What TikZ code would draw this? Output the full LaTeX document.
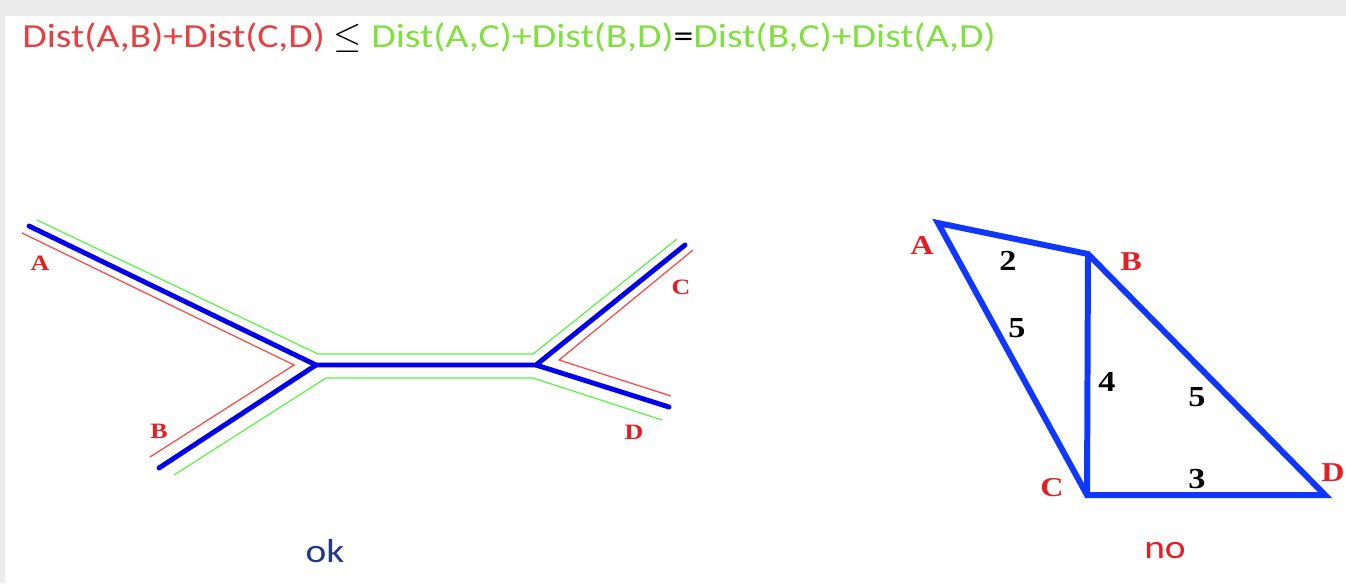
\documentclass[tikz,border=0pt]{standalone}
\usepackage{fontspec}
\setmainfont{Liberation Serif}
\newfontfamily\calfont[FakeStretch=1.18]{Carlito}
\newfontfamily\lblfont[FakeStretch=1.18]{Liberation Serif}
\usetikzlibrary{positioning}

\definecolor{treeblue}{RGB}{0,0,235}
\definecolor{triblue}{RGB}{15,55,255}
\definecolor{linegreen}{RGB}{90,245,70}
\definecolor{linered}{RGB}{255,70,70}
\definecolor{lblred}{RGB}{230,30,35}
\definecolor{eqred}{RGB}{232,64,64}
\definecolor{eqgreen}{RGB}{128,224,64}
\definecolor{okblue}{RGB}{32,56,140}

\begin{document}
\begin{tikzpicture}[
    x=0.02cm, y=-0.02cm,
    branch/.style={treeblue, line width=2.8pt, line cap=round, line join=round},
    greenpath/.style={linegreen, line width=0.7pt},
    redpath/.style={linered, line width=0.7pt},
    edge/.style={triblue, line width=3.4pt},
    leaf/.style={text=lblred, font=\lblfont\bfseries\fontsize{12.5}{13}\selectfont},
    vtx/.style={text=lblred, font=\lblfont\bfseries\fontsize{15.5}{16}\selectfont},
    wt/.style={font=\lblfont\bfseries\fontsize{16.5}{17}\selectfont},
    eq/.style={font=\calfont\fontsize{19.2}{22}\selectfont, inner sep=0pt},
    verdict/.style={font=\calfont\fontsize{19}{22}\selectfont},
]

% --- Frame ---
\useasboundingbox (0,0) rectangle (1346,583);
\fill[gray!15] (0,0) rectangle (1346,16);
\fill[gray!15] (0,16) rectangle (5,583);

% --- Inequality ---
\node[eq, anchor=base west] (ineq) at (22,47)
    {\textcolor{eqred}{Dist(A,B)+Dist(C,D)} $\leq$ \textcolor{eqgreen}{Dist(A,C)+Dist(B,D)}=\textcolor{eqgreen}{Dist(B,C)+Dist(A,D)}};

% --- Tree: branch points ---
\coordinate (ta) at (29,226);
\coordinate (tb) at (159,468);
\coordinate (tc) at (685,245);
\coordinate (td) at (669,407);
\coordinate (tu) at (316,365);
\coordinate (tv) at (536,365);

% --- Tree: path outlines ---
\coordinate (g1) at (37,220);
\coordinate (g2) at (318,354);
\coordinate (g3) at (533,354);
\coordinate (g4) at (677,239);
\coordinate (g5) at (174,475);
\coordinate (g6) at (326,378);
\coordinate (g7) at (533,378);
\coordinate (g8) at (662,420);
\coordinate (r1) at (22,233);
\coordinate (r2) at (294,365);
\coordinate (r3) at (150,457);
\coordinate (r4) at (693,250);
\coordinate (r5) at (559,360);
\coordinate (r6) at (671,396);

\draw[greenpath] (g1) -- (g2) -- (g3) -- (g4);
\draw[greenpath] (g5) -- (g6) -- (g7) -- (g8);
\draw[redpath] (r1) -- (r2) -- (r3);
\draw[redpath] (r4) -- (r5) -- (r6);

\draw[branch] (ta) -- (tu) -- (tv) -- (tc);
\draw[branch] (tb) -- (tu);
\draw[branch] (tv) -- (td);

\node[leaf] (la) at (40,263) {A};
\node[leaf] (lb) at (159,431) {B};
\node[leaf] (lc) at (681,287) {C};
\node[leaf] (ld) at (634,432) {D};

% --- Triangles ---
\coordinate (A) at (938,223);
\coordinate (B) at (1088,254);
\coordinate (C) at (1087,495);
\coordinate (D) at (1325,495);

\draw[edge] (A) -- (B) -- (D) -- (C) -- cycle;
\draw[edge] (B) -- (C);

\node[vtx] (va) at (922,245) {A};
\node[vtx] (vb) at (1131,262) {B};
\node[vtx] (vc) at (1052,488) {C};
\node[vtx, inner xsep=0pt, anchor=east] (vd) at (1345,473) {D};

\node[wt] (wab) at (1008,261) {2};
\node[wt] (wac) at (1017,328) {5};
\node[wt] (wbc) at (1107,382) {4};
\node[wt] (wbd) at (1197,397) {5};
\node[wt] (wcd) at (1197,479) {3};

% --- Verdicts ---
\node[verdict, text=okblue] (ok) at (325,551) {ok};
\node[verdict, text=lblred] (no) at (1165,551) {no};

\end{tikzpicture}
\end{document}
